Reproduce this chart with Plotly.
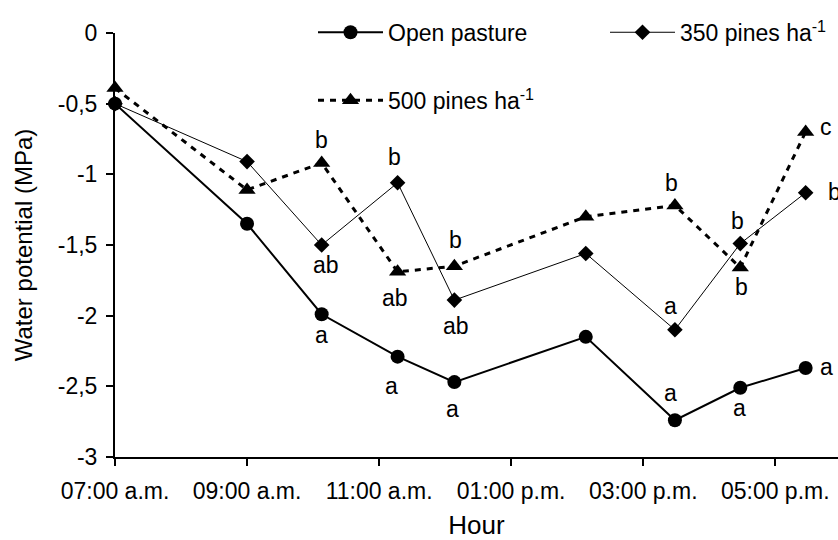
import plotly.graph_objects as go

# ---- data ----
hours = [7.0, 9.0, 10.13, 11.28, 12.14, 14.13, 15.48, 16.47, 17.46]
open_pasture = [-0.50, -1.35, -1.99, -2.29, -2.47, -2.15, -2.74, -2.51, -2.37]
pines_350 = [-0.50, -0.91, -1.50, -1.06, -1.89, -1.56, -2.10, -1.49, -1.13]
pines_500 = [-0.39, -1.11, -0.92, -1.69, -1.65, -1.30, -1.22, -1.66, -0.70]

open_letters = ["", "", "a", "a", "a", "", "a", "a", "a"]
p350_letters = ["", "", "ab", "b", "ab", "", "a", "b", "b"]
p500_letters = ["", "", "b", "ab", "b", "", "b", "b", "c"]

x_tick_vals = [7, 9, 11, 13, 15, 17]
x_tick_text = ["07:00 a.m.", "09:00 a.m.", "11:00 a.m.", "01:00 p.m.", "03:00 p.m.", "05:00 p.m."]
y_tick_vals = [0, -0.5, -1, -1.5, -2, -2.5, -3]
y_tick_text = ["0", "-0,5", "-1", "-1,5", "-2", "-2,5", "-3"]

# ---- label offsets (pixels) ----
open_off = {2: (0, -21), 3: (-6, -29), 4: (-2, -27), 6: (-4, 27), 7: (-1, -20), 8: (21, 1)}
p350_off = {2: (4, -20), 3: (-3, 26), 4: (2, -26), 6: (-4, 24), 7: (-3, 23), 8: (29, 1)}
p500_off = {2: (0, 23), 3: (-3, -26), 4: (1, 26), 6: (-3, 22), 7: (1, -19), 8: (20, 5)}

FONT = "Liberation Sans, Arial, sans-serif"
FS = 23

fig = go.Figure()
fig.add_trace(go.Scatter(
    x=hours, y=open_pasture, mode="lines+markers", name="Open pasture",
    line=dict(color="black", width=2),
    marker=dict(symbol="circle", size=14, color="black"),
    cliponaxis=False, legend="legend"))
fig.add_trace(go.Scatter(
    x=hours, y=pines_350, mode="lines+markers", name="350 pines ha<sup>-1</sup>",
    line=dict(color="black", width=1),
    marker=dict(symbol="diamond", size=12, color="black"),
    cliponaxis=False, legend="legend2"))
fig.add_trace(go.Scatter(
    x=hours, y=pines_500, mode="lines+markers", name="500 pines ha<sup>-1</sup>",
    line=dict(color="black", width=3, dash="6px,6px"),
    marker=dict(symbol="triangle-up", size=15, color="black"),
    cliponaxis=False, legend="legend3"))

annotations = []
for letters, vals, offs in [(open_letters, open_pasture, open_off),
                            (p350_letters, pines_350, p350_off),
                            (p500_letters, pines_500, p500_off)]:
    for i, t in enumerate(letters):
        if not t:
            continue
        dx, dy = offs[i]
        annotations.append(dict(x=hours[i], y=vals[i], xref="x", yref="y", text=t,
                                showarrow=False, xshift=dx, yshift=dy,
                                font=dict(family=FONT, size=FS, color="black")))

leg_common = dict(xanchor="left", yanchor="middle", bgcolor="rgba(0,0,0,0)",
                  font=dict(family=FONT, size=FS, color="black"), itemwidth=65,
                  borderwidth=0, visible=True)

fig.update_layout(
    width=838, height=540, showlegend=True,
    margin=dict(l=115, r=0, t=33, b=83, autoexpand=False),
    paper_bgcolor="white", plot_bgcolor="white",
    font=dict(family=FONT, size=FS, color="black"),
    annotations=annotations,
    legend=dict(x=(313 - 115) / 723, y=(456.7 - 32) / 424, **leg_common),
    legend2=dict(x=(605 - 115) / 723, y=(456.7 - 32) / 424, **leg_common),
    legend3=dict(x=(313 - 115) / 723, y=(456.7 - 100) / 424, **leg_common),
    xaxis=dict(range=[7, 17.95], tickvals=x_tick_vals, ticktext=x_tick_text,
               showline=True, linecolor="black", linewidth=2, ticks="outside",
               ticklen=7, tickwidth=2, tickcolor="black", showgrid=False, zeroline=False,
               tickfont=dict(family=FONT, size=FS), ticklabelstandoff=5, automargin=False,
               title=dict(text="Hour", font=dict(family=FONT, size=26), standoff=16)),
    yaxis=dict(range=[-3, 0], tickvals=y_tick_vals, ticktext=y_tick_text,
               showline=True, linecolor="black", linewidth=2, ticks="outside",
               ticklen=7, tickwidth=2, tickcolor="black", showgrid=False, zeroline=False,
               tickfont=dict(family=FONT, size=FS), ticklabelstandoff=4, automargin=False,
               title=dict(text="Water potential (MPa)", font=dict(family=FONT, size=24), standoff=18)),
)

fig.write_html("out.html", config={"displayModeBar": False},
               post_script="document.body.style.margin='0px';")
